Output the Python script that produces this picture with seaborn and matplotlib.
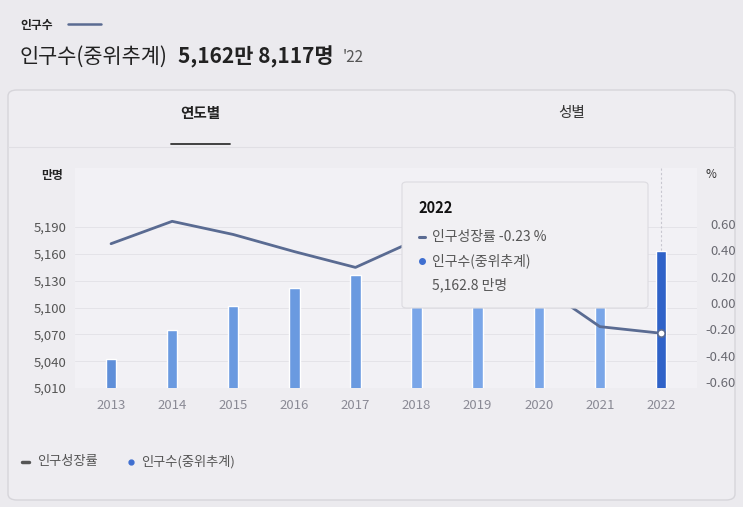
import matplotlib
matplotlib.use("Agg")
import matplotlib.pyplot as plt
from matplotlib.patches import FancyBboxPatch
from matplotlib.lines import Line2D
import seaborn as sns
import pandas as pd
import numpy as np

years = ["2013", "2014", "2015", "2016", "2017", "2018", "2019", "2020", "2021", "2022"]
population = [5042.9, 5074.7, 5101.5, 5121.8, 5136.2, 5160.7, 5176.5, 5183.6, 5174.5, 5162.8]
growth_rate = [0.45, 0.62, 0.52, 0.39, 0.27, 0.48, 0.31, 0.14, -0.18, -0.23]
left_ticks = [5010, 5040, 5070, 5100, 5130, 5160, 5190]
right_ticks = [-0.6, -0.4, -0.2, 0.0, 0.2, 0.4, 0.6]

sns.set_theme(style="white")
plt.rcParams["font.family"] = ["Noto Sans CJK KR", "DejaVu Sans"]

W, H = 743, 507
fig = plt.figure(figsize=(W / 100, H / 100), dpi=100)
bg = "#ebeaee"
fig.patch.set_facecolor(bg)

def fx(x):
    return x / W

def fy(y):
    return 1 - y / H

# card
card = FancyBboxPatch((fx(8), fy(500)), fx(727), fy(90) - fy(500),
                      boxstyle="round,pad=0,rounding_size=0.012",
                      transform=fig.transFigure, facecolor="#eeedf1",
                      edgecolor="#d6d5da", linewidth=1.0, zorder=0)
fig.add_artist(card)
fig.add_artist(Line2D([fx(8), fx(735)], [fy(147), fy(147)], transform=fig.transFigure,
                      color="#e0dfe4", linewidth=0.8, zorder=0))

df = pd.DataFrame({"year": years, "pop": population, "rate": growth_rate})

ax = fig.add_axes([fx(75), fy(388), fx(697) - fx(75), fy(168) - fy(388)])
ax.set_facecolor("#f2f1f5")
bar_colors = ["#5f8fd9", "#6a9ae0", "#6a9ae0", "#6a9ae0", "#6a9ae0",
              "#7aa6e8", "#7aa6e8", "#7aa6e8", "#7aa6e8", "#2f62c8"]
sns.barplot(data=df, x="year", y="pop", hue="year", palette=bar_colors,
            legend=False, width=0.17, ax=ax, zorder=2, saturation=1)
ax.set_ylim(5010, 5256)
ax.set_xlim(-0.59, 9.59)
ax.set_yticks(left_ticks)
ax.set_yticklabels([f"{v:,}" for v in left_ticks], color="#555555", fontsize=9.5)
ax.tick_params(axis="x", colors="#8a8a95", labelsize=9.5, length=0, pad=8)
ax.tick_params(axis="y", length=0, pad=6)
ax.set_xlabel("")
ax.set_ylabel("")
for v in left_ticks:
    ax.axhline(v, color="#e4e3e8", linewidth=0.7, zorder=0)
ax.axvline(9, color="#c8c7d0", linewidth=0.8, linestyle=(0, (2, 2)), zorder=1)
for s in ax.spines.values():
    s.set_visible(False)

ax2 = ax.twinx()
sns.pointplot(data=df, x="year", y="rate", color="#5a6b92", markers="",
              linewidth=2.0, ax=ax2)
ax2.set_ylim(-0.646, 1.025)
ax2.set_xlim(-0.59, 9.59)
ax2.set_yticks(right_ticks)
ax2.set_yticklabels([f"{v:.2f}" for v in right_ticks], color="#6a6a72", fontsize=9.5)
for lbl in ax2.get_yticklabels():
    lbl.set_horizontalalignment("right")
ax2.tick_params(axis="y", length=0, pad=28)
ax2.set_ylabel("")
ax2.set_xlabel("")
for s in ax2.spines.values():
    s.set_visible(False)
# hover point at 2022
ax2.scatter([9], [growth_rate[-1]], s=28, facecolor="white", edgecolor="#5a6b92",
            linewidth=1.2, zorder=5)

# axis unit labels
fig.text(fx(52), fy(176), "만명", fontsize=8.5, fontweight="bold", color="#222222",
         ha="center", va="center")
fig.text(fx(711), fy(174), "%", fontsize=8.5, color="#333333", ha="center", va="center")

# header
fig.text(fx(20), fy(25), "인구수", fontsize=8.5, fontweight="bold", color="#222222",
         ha="left", va="center")
fig.add_artist(Line2D([fx(68), fx(101)], [fy(24), fy(24)], transform=fig.transFigure,
                      color="#5a6b92", linewidth=1.8))
fig.text(fx(20), fy(57), "인구수(중위추계)", fontsize=15, color="#222222",
         ha="left", va="center")
fig.text(fx(178), fy(57), "5,162만 8,117명", fontsize=15, fontweight="bold",
         color="#222222", ha="left", va="center")
fig.text(fx(343), fy(58), "'22", fontsize=11, color="#555555", ha="left", va="center")

# tabs
fig.text(fx(200), fy(113), "연도별", fontsize=10.5, fontweight="bold", color="#222222",
         ha="center", va="center")
fig.add_artist(Line2D([fx(171), fx(230)], [fy(144), fy(144)], transform=fig.transFigure,
                      color="#333333", linewidth=1.3))
fig.text(fx(572), fy(113), "성별", fontsize=10.5, color="#333333",
         ha="center", va="center")

# tooltip
tip = FancyBboxPatch((fx(402), fy(308)), fx(246), fy(182) - fy(308),
                     boxstyle="round,pad=0,rounding_size=0.006",
                     transform=fig.transFigure, facecolor="#f1f0f3",
                     edgecolor="#dcdbe0", linewidth=0.8, zorder=10)
fig.add_artist(tip)
fig.text(fx(418), fy(208), "2022", fontsize=10.5, fontweight="bold", color="#111111",
         ha="left", va="center", zorder=11)
fig.add_artist(Line2D([fx(419), fx(425)], [fy(237), fy(237)], transform=fig.transFigure,
                      color="#5a6b92", linewidth=2.2, zorder=11))
fig.text(fx(432), fy(237), "인구성장률 -0.23 %", fontsize=10, color="#555555",
         ha="left", va="center", zorder=11)
fig.add_artist(Line2D([fx(422)], [fy(261)], transform=fig.transFigure, marker="o",
                      markersize=4, color="#3f6fd0", zorder=11))
fig.text(fx(432), fy(261), "인구수(중위추계)", fontsize=10, color="#555555",
         ha="left", va="center", zorder=11)
fig.text(fx(432), fy(285), "5,162.8 만명", fontsize=10, color="#555555",
         ha="left", va="center", zorder=11)

# legend
fig.add_artist(Line2D([fx(22), fx(29)], [fy(462), fy(462)], transform=fig.transFigure,
                      color="#555555", linewidth=2.5))
fig.text(fx(37), fy(462), "인구성장률", fontsize=9.5, color="#555555",
         ha="left", va="center")
fig.add_artist(Line2D([fx(131)], [fy(462)], transform=fig.transFigure, marker="o",
                      markersize=3.5, color="#3f6fd0"))
fig.text(fx(141), fy(462), "인구수(중위추계)", fontsize=9.5, color="#555555",
         ha="left", va="center")

fig.savefig("out.png", dpi=100, facecolor=fig.get_facecolor())
